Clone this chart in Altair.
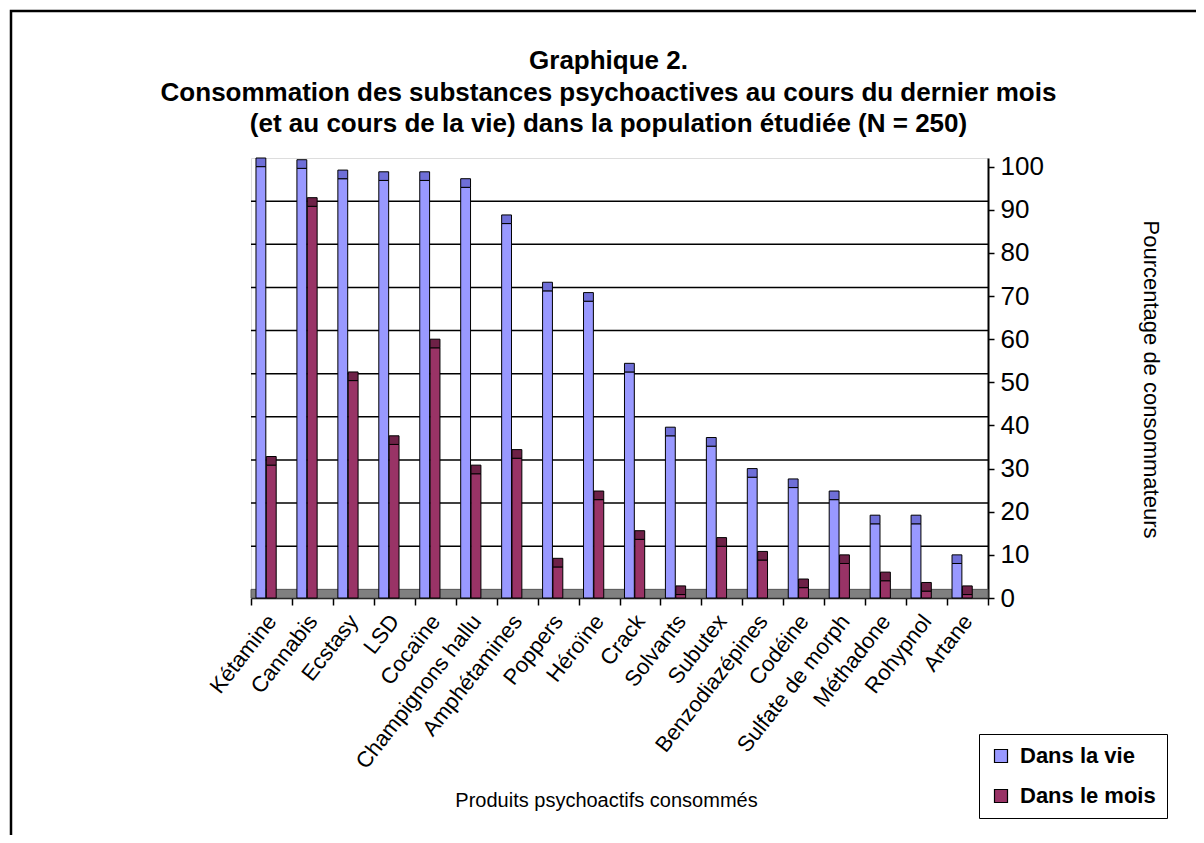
import altair as alt
import pandas as pd

FONT = "Liberation Sans"

categories = ["Kétamine", "Cannabis", "Ecstasy", "LSD", "Cocaïne", "Champignons hallu",
              "Amphétamines", "Poppers", "Héroïne", "Crack", "Solvants", "Subutex",
              "Benzodiazépines", "Codéine", "Sulfate de morph", "Méthadone", "Rohypnol", "Artane"]
vie = [100, 99.6, 97.2, 96.8, 96.8, 95.2, 86.8, 71.2, 68.8, 52.4, 37.6, 35.2,
       28.0, 25.6, 22.8, 17.2, 17.2, 8.0]
mois = [30.8, 90.8, 50.4, 35.6, 58.0, 28.8, 32.4, 7.2, 22.8, 13.6, 0.8, 12.0,
        8.8, 2.4, 8.0, 4.0, 1.6, 0.8]
series = ["Dans la vie", "Dans le mois"]
colors = ["#9999FF", "#993366"]
cap_colors = ["#6F6FD8", "#6E2147"]
y_ticks = list(range(0, 101, 10))
grid_vals = list(range(10, 100, 10))
depth = 2.0  # 3D depth of the wall, in axis units

rows = []
for i, c in enumerate(categories):
    for s, vals, cc in zip(series, [vie, mois], cap_colors):
        rows.append({"cat": c, "serie": s, "value": vals[i], "capcol": cc})
df = pd.DataFrame(rows)
df_grid = pd.DataFrame({"g": grid_vals})
df_floor = pd.DataFrame({"lo": [0], "hi": [depth]})

yscale = alt.Scale(domain=[0, 102], nice=False, zero=True)
xscale = alt.Scale(paddingInner=0, paddingOuter=0)
xoff_scale = alt.Scale(paddingInner=0.05, paddingOuter=1, align=0.24)

y_axis = alt.Axis(orient="right", values=y_ticks, grid=False,
                  title="Pourcentage de consommateurs", titleAngle=90,
                  titleFontSize=22, titleFontWeight="normal", titleColor="black",
                  titleX=162, titleY=221, titleAlign="center", titleBaseline="middle",
                  labelFontSize=26, labelColor="black", labelPadding=6,
                  tickSize=6, tickColor="black", tickWidth=1.5,
                  domainColor="black", domainWidth=2,
                  labelFont=FONT, titleFont=FONT)

x_enc = alt.X("cat:N", sort=categories, scale=xscale,
              axis=alt.Axis(title="Produits psychoactifs consommés", labelAngle=-52,
                            labelAlign="right", labelBaseline="middle", labelFontSize=22,
                            labelPadding=12, labelColor="black", labelLimit=0,
                            tickBand="extent",
                            tickSize=7, tickColor="black", tickWidth=1.5,
                            domainColor="black", domainWidth=1.5,
                            titleFontSize=20, titleFontWeight="normal", titleColor="black",
                            titleX=355, titleY=202, titleAlign="center",
                            titleBaseline="middle", labelFont=FONT, titleFont=FONT))
xo_enc = alt.XOffset("serie:N", sort=series, scale=xoff_scale)

floor = alt.Chart(df_floor).mark_rect(fill="#808080", stroke="#555555", strokeWidth=1).encode(
    y=alt.Y("lo:Q", scale=yscale, axis=y_axis), y2="hi:Q")

grid = alt.Chart(df_grid).transform_calculate(gb=f"datum.g + {depth}").mark_rule(
    color="black", strokeWidth=1.5).encode(y=alt.Y("gb:Q", scale=yscale, axis=y_axis))

bars = alt.Chart(df).mark_bar(stroke="black", strokeWidth=1).encode(
    x=x_enc, xOffset=xo_enc,
    y=alt.Y("value:Q", scale=yscale, axis=y_axis),
    color=alt.Color("serie:N", sort=series,
                    scale=alt.Scale(domain=series, range=colors),
                    legend=alt.Legend(title=None, orient="none", legendX=728, legendY=576,
                                      fillColor="white", strokeColor="black",
                                      padding=11, labelFontSize=22, labelFontWeight="bold",
                                      labelFont=FONT, labelColor="black",
                                      symbolType="square", symbolSize=169,
                                      symbolStrokeColor="black", symbolStrokeWidth=1.2,
                                      rowPadding=18, labelOffset=8)))

caps = alt.Chart(df).transform_calculate(top=f"datum.value + {depth}").mark_bar(
    stroke="black", strokeWidth=1).encode(
    x=x_enc, xOffset=xo_enc,
    y=alt.Y("value:Q", scale=yscale, axis=y_axis), y2="top:Q",
    fill=alt.Fill("capcol:N", scale=None, legend=None))

frame = alt.Chart(df_floor).mark_rect(filled=False, stroke="black", strokeWidth=2.5).encode(
    x=alt.value(-240), y=alt.value(-147), x2=alt.value(1200), y2=alt.value(900))

chart = alt.layer(frame, floor, grid, bars, caps).properties(
    width=737, height=440,
    autosize="none",
    padding={"left": 243, "top": 150, "right": 208, "bottom": 237},
    title=alt.TitleParams(
        text="Graphique 2.",
        subtitle=["Consommation des substances psychoactives au cours du dernier mois",
                  "(et au cours de la vie) dans la population étudiée (N = 250)"],
        font=FONT, subtitleFont=FONT, fontSize=26, subtitleFontSize=26,
        fontWeight="bold", subtitleFontWeight="bold", color="black", subtitleColor="black",
        anchor="middle", frame="group", dx=-11, offset=-127, subtitlePadding=6,
        subtitleLineHeight=31),
).configure_view(fill="#C0C0C0", stroke="#808080", strokeWidth=2
).configure(background="white")

chart.save("out.html", embed_options={"renderer": "svg", "actions": False})
